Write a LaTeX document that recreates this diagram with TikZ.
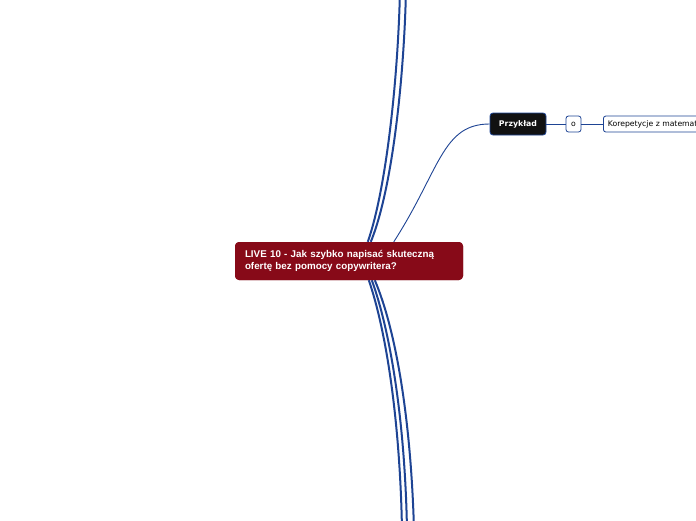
\documentclass[tikz,border=0pt]{standalone}
\usepackage{fontspec}
\setmainfont{Liberation Sans}
\newfontfamily\dejavu{DejaVu Sans}
\definecolor{mapred}{HTML}{870A18}
\definecolor{mapblue}{HTML}{1E4494}
\definecolor{mapblack}{HTML}{111111}
\begin{document}
\begin{tikzpicture}[x=1pt,y=-1pt,
  mainline/.style={draw=mapblue,line width=2pt},
  thinline/.style={draw=mapblue,line width=0.9pt},
  rootbox/.style={fill=mapred,rounded corners=4pt,minimum width=228pt,minimum height=38pt,text width=208pt,align=left,inner xsep=10pt,text=white,font=\fontsize{9.8}{12.5}\selectfont\bfseries},
  darkbox/.style={fill=mapblack,draw=mapblue,line width=0.8pt,rounded corners=3pt,minimum width=56pt,minimum height=22pt,inner sep=0pt,text=white,font=\dejavu\fontsize{7.8}{9}\selectfont\bfseries},
  lightbox/.style={fill=white,draw=mapblue,line width=0.8pt,rounded corners=2.5pt,minimum height=16pt,inner ysep=0pt,inner xsep=4.5pt,font=\dejavu\fontsize{7.7}{9}\selectfont}
]
\useasboundingbox (0,0) rectangle (696,520);
\clip (0,0) rectangle (696,520);
\fill[white] (0,0) rectangle (696,520);

\coordinate (u1) at (400,-10);
\coordinate (u2) at (406,-10);
\coordinate (d1) at (402,530);
\coordinate (d2) at (407,530);
\coordinate (d3) at (414,530);

\node[rootbox] (center) at (349,261) {LIVE 10 - Jak szybko napisać skuteczną\\ofertę bez pomocy copywritera?};
\node[darkbox] (przyklad) at (518,124) {Przykład};
\node[lightbox,minimum width=15pt,inner xsep=0pt] (o) at (573.5,124) {o};
\node[lightbox,anchor=west] (kor) at (603,124) {Korepetycje z matematyki};

\draw[mainline] ([xshift=133pt]center.north west) .. controls (386,190) and (398,80) .. (u1);
\draw[mainline] ([xshift=136pt]center.north west) .. controls (392,190) and (404,80) .. (u2);
\draw[mainline] ([xshift=134pt]center.south west) .. controls (386,330) and (400,420) .. (d1);
\draw[mainline] ([xshift=137pt]center.south west) .. controls (390,330) and (405,420) .. (d2);
\draw[mainline] ([xshift=140pt]center.south west) .. controls (396,330) and (411,420) .. (d3);
\draw[thinline] ([xshift=159pt]center.north west) .. controls (440,170) and (442,124) .. (przyklad.west);
\draw[thinline] (przyklad.east) -- (o.west);
\draw[thinline] (o.east) -- (kor.west);

\node[rootbox] at (center) {LIVE 10 - Jak szybko napisać skuteczną\\ofertę bez pomocy copywritera?};
\end{tikzpicture}
\end{document}
